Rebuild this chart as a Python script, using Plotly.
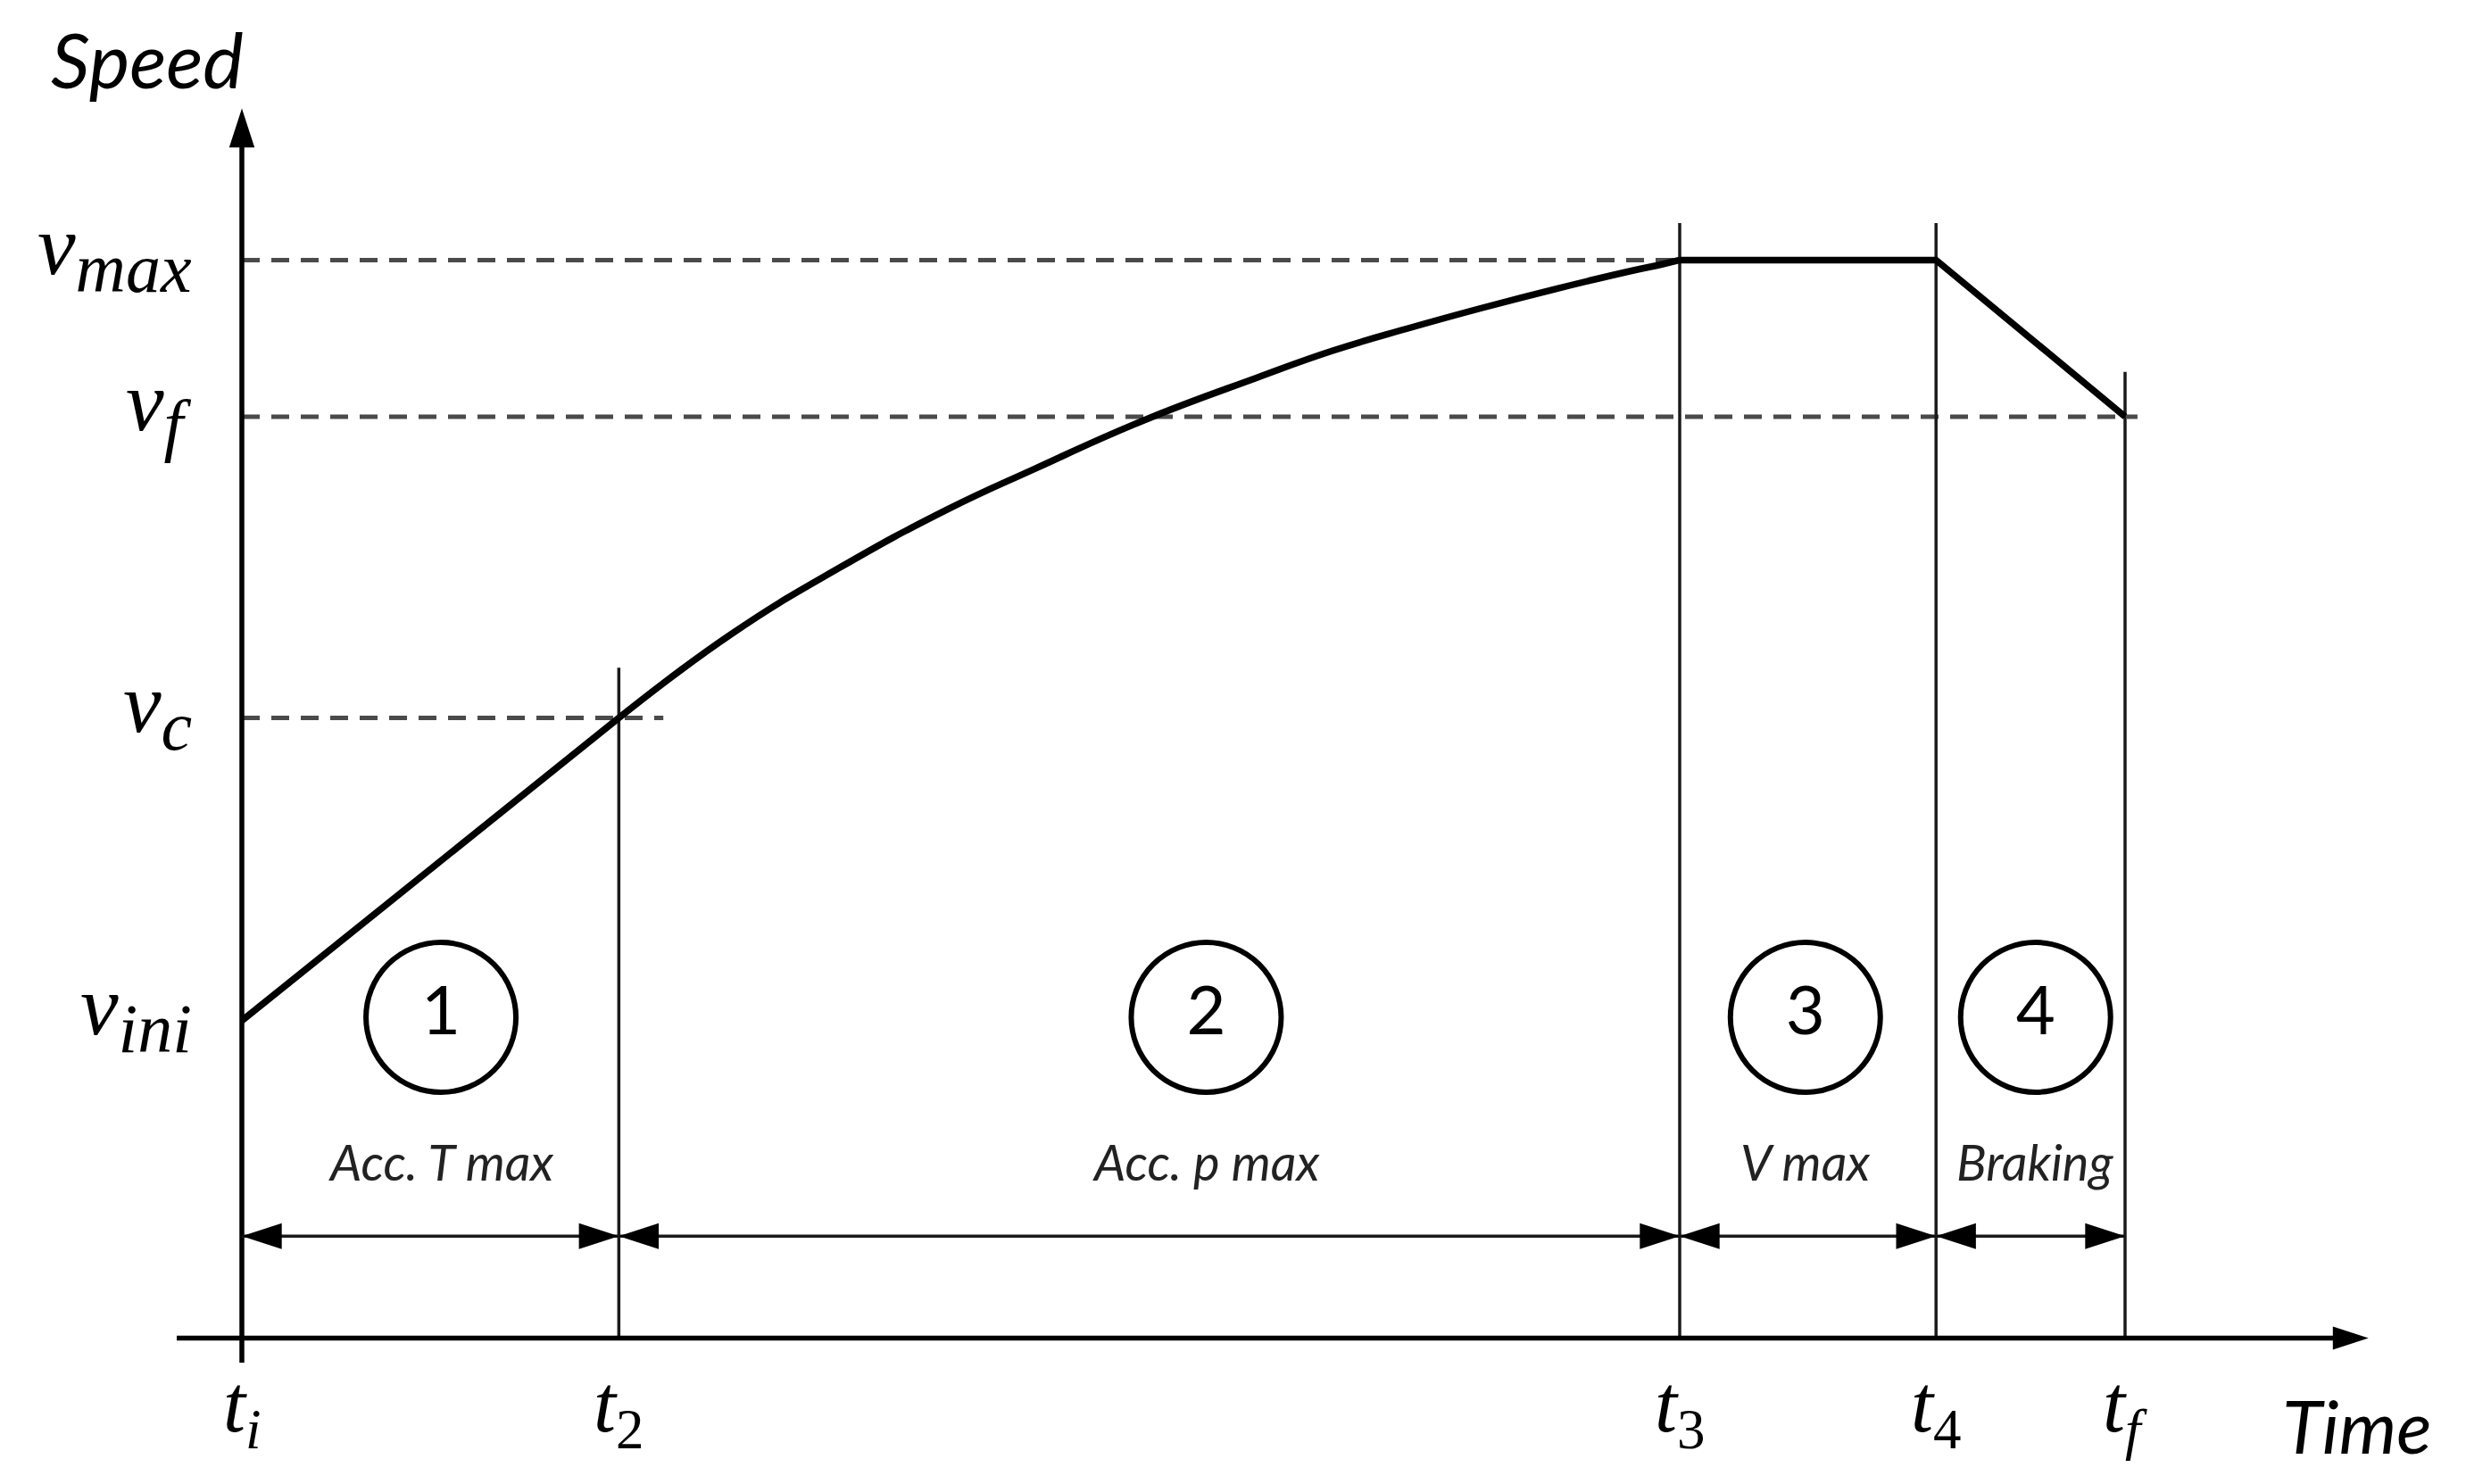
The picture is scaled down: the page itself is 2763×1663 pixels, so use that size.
import plotly.graph_objects as go

# Time marks (t_i, t_2, t_3, t_4, t_f) and speed levels, arbitrary units
t_labels = ["t<sub>i</sub>", "t<sub><span style='font-style:normal'>2</span></sub>",
            "t<sub><span style='font-style:normal'>3</span></sub>",
            "t<sub><span style='font-style:normal'>4</span></sub>", "t<sub>f</sub>"]
t_marks = [0.0, 2.397, 9.143, 10.773, 11.975]

v_labels = ["v<sub>max</sub>", "v<sub>f</sub>", "v<sub>c</sub>", "v<sub>ini</sub>"]
v_levels = [6.856, 5.860, 3.944, 2.019]
v_max, v_f, v_c, v_ini = v_levels

# phase 2 (acceleration at max power) curve
phase2_t = [2.397, 3.116, 3.797, 4.478, 5.045, 5.726, 6.455, 6.932, 7.410,
            7.888, 8.365, 8.843, 9.035, 9.143]
phase2_v = [3.944, 4.480, 4.897, 5.266, 5.530, 5.833, 6.108, 6.278, 6.420,
            6.552, 6.675, 6.789, 6.830, 6.856]

phase_numbers = ["1", "2", "3", "4"]
phase_names = ["Acc. T max", "Acc. p max", "V max", "Braking"]
phase_centers = [1.266, 6.132, 9.942, 11.406]

ti, t2, t3, t4, tf = t_marks

SERIF = "Liberation Serif"
SANS = "Lato"
INK = "#000000"

fig = go.Figure()

# dashed guide lines for the speed levels
dash_end = [t3, 12.054, 2.680]
for lvl, end in zip([v_max, v_f, v_c], dash_end):
    fig.add_trace(go.Scatter(x=[ti, end], y=[lvl, lvl], mode="lines",
                             line=dict(color="#4a4a4a", width=5, dash="20px,13px")))

# thin vertical lines at the phase boundaries
guide_tops = [4.263, 7.091, 7.091, 6.145]
vx, vy = [], []
for t, top in zip(t_marks[1:], guide_tops):
    vx += [t, t, None]
    vy += [0, top, None]
fig.add_trace(go.Scatter(x=vx, y=vy, mode="lines", line=dict(color="#1a1a1a", width=3.5)))

# axes
fig.add_trace(go.Scatter(x=[ti, ti], y=[-0.156, 7.70], mode="lines",
                         line=dict(color=INK, width=5.5)))
fig.add_trace(go.Scatter(x=[-0.414, 13.45], y=[0, 0], mode="lines",
                         line=dict(color=INK, width=5.5)))
fig.add_trace(go.Scatter(x=[ti], y=[7.82], mode="markers",
                         marker=dict(symbol="arrow", angle=0, size=46, color=INK)))
fig.add_trace(go.Scatter(x=[13.523], y=[0], mode="markers",
                         marker=dict(symbol="arrow", angle=90, size=42, color=INK)))

# speed profile
fig.add_trace(go.Scatter(x=[ti, t2], y=[v_ini, v_c], mode="lines",
                         line=dict(color=INK, width=7.5)))
fig.add_trace(go.Scatter(x=phase2_t, y=phase2_v, mode="lines",
                         line=dict(color=INK, width=7.5, shape="spline", smoothing=1.3)))
fig.add_trace(go.Scatter(x=[t3, t4, tf], y=[v_max, v_max, v_f], mode="lines",
                         line=dict(color=INK, width=7.5)))

# double arrows spanning each phase
arrow_y = 0.648
for a, b in zip(t_marks[:-1], t_marks[1:]):
    fig.add_trace(go.Scatter(x=[a, b], y=[arrow_y, arrow_y], mode="lines",
                             line=dict(color="#1a1a1a", width=3.5)))
    fig.add_trace(go.Scatter(x=[a, b], y=[arrow_y, arrow_y], mode="markers",
                             marker=dict(symbol="arrow", angle=[-90, 90], size=47, color=INK)))

# numbered circles
fig.add_trace(go.Scatter(x=phase_centers, y=[2.04] * 4, mode="markers+text",
                         text=phase_numbers, textposition="middle center",
                         textfont=dict(family=SANS, size=76, color=INK),
                         marker=dict(symbol="circle-open", size=168, color=INK,
                                     line=dict(width=6, color=INK))))

# phase names
for x, name in zip(phase_centers, phase_names):
    fig.add_annotation(x=x, y=1.121, text=name, showarrow=False,
                       font=dict(family=SANS, size=56, color="#222222", style="italic"))

# time tick labels
for t, lab in zip(t_marks, t_labels):
    fig.add_annotation(x=t, y=-0.46, text=lab, showarrow=False, xanchor="center",
                       font=dict(family=SERIF, size=90, color=INK, style="italic"))

# speed level labels
for v, lab in zip(v_levels, v_labels):
    sub = lab.replace("<sub>", "<sub><span style='font-size:78px'>").replace("</sub>", "</span></sub>")
    fig.add_annotation(x=-0.306, y=v, text=sub, showarrow=False, xanchor="right",
                       yanchor="middle", yshift=9,
                       font=dict(family=SERIF, size=96, color=INK, style="italic"))

fig.add_annotation(x=-0.60, y=8.14, text="Speed", showarrow=False,
                   font=dict(family=SANS, size=86, color=INK, style="italic"))
fig.add_annotation(x=13.45, y=-0.553, text="Time", showarrow=False,
                   font=dict(family=SANS, size=82, color=INK, style="italic"))

fig.update_traces(hoverinfo="skip", showlegend=False, cliponaxis=False)

# the page body adds an 8px margin; shift the ranges to compensate
off = 8 / 176.2
fig.update_layout(
    width=2763, height=1663,
    margin=dict(l=0, r=0, t=0, b=0),
    paper_bgcolor="white", plot_bgcolor="white",
    xaxis=dict(range=[-1.538 + off, 14.143 + off], visible=False, fixedrange=True),
    yaxis=dict(range=[-0.928 - off, 8.510 - off], visible=False, fixedrange=True),
)

fig.write_html("out.html")
